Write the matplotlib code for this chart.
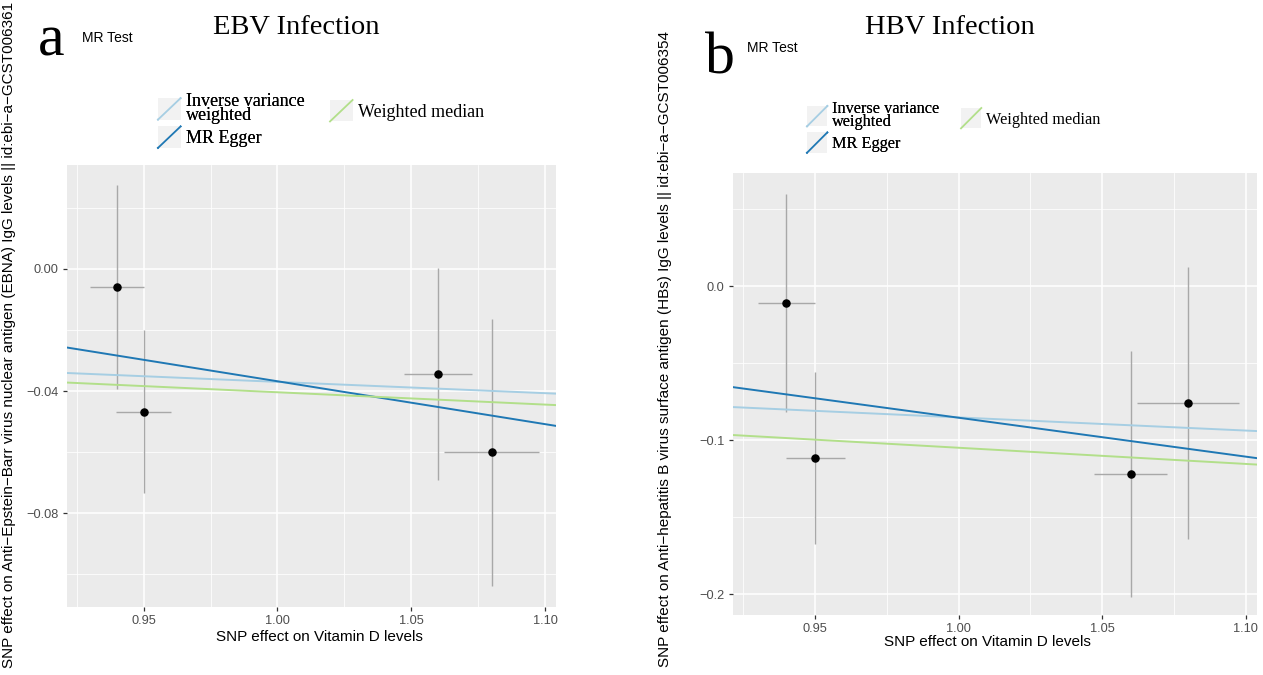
import matplotlib
matplotlib.use("Agg")
import matplotlib.pyplot as plt
from matplotlib.legend_handler import HandlerBase
from matplotlib.patches import Rectangle
from matplotlib.lines import Line2D
from matplotlib.ticker import MultipleLocator, FuncFormatter

# ---------------- data ----------------
snp_exposure = [0.94, 0.95, 1.06, 1.08]
snp_exposure_se = [0.010, 0.0103, 0.0128, 0.0178]

ebv_outcome = [-0.0059, -0.0467, -0.0343, -0.0601]
ebv_outcome_se = [0.0333, 0.0266, 0.0347, 0.0438]

hbv_outcome = [-0.011, -0.1117, -0.122, -0.076]
hbv_outcome_se = [0.0707, 0.056, 0.080, 0.0885]

methods = ["Inverse variance\nweighted", "MR Egger", "Weighted median"]
method_colors = ["#A6CEE3", "#1F78B4", "#B2DF8A"]

ebv_intercepts = [0.0, 0.1037, 0.0]
ebv_slopes = [-0.0370, -0.1405, -0.0404]
hbv_intercepts = [0.0, 0.167, 0.0]
hbv_slopes = [-0.0853, -0.2525, -0.1050]

titles = ["EBV Infection", "HBV Infection"]
panel_letters = ["a", "b"]
ylabels = [
    "SNP effect on Anti\u2212Epstein\u2212Barr virus nuclear antigen (EBNA) IgG levels || id:ebi\u2212a\u2212GCST006361",
    "SNP effect on Anti\u2212hepatitis B virus surface antigen (HBs) IgG levels || id:ebi\u2212a\u2212GCST006354",
]
xlabel = "SNP effect on Vitamin D levels"

# ---------------- figure ----------------
W, H = 1263, 675
fig = plt.figure(figsize=(W / 100, H / 100), dpi=100)
fig.patch.set_facecolor("white")

SERIF = ["Liberation Serif", "DejaVu Serif"]
SANS = ["Liberation Sans", "DejaVu Sans"]


def fx(px):
    return px / W


def fy(py):
    return 1 - py / H


def axes_rect(l, t, r, b):
    return [fx(l), fy(b), (r - l) / W, (b - t) / H]


class DiagHandler(HandlerBase):
    def create_artists(self, legend, orig_handle, xdescent, ydescent,
                       width, height, fontsize, trans):
        rect = Rectangle((-xdescent, -ydescent), width, height,
                         facecolor="#F2F2F2", edgecolor="none", transform=trans)
        line = Line2D([-xdescent, -xdescent + width],
                      [-ydescent, -ydescent + height],
                      color=orig_handle.get_color(), lw=1.3, transform=trans)
        return [rect, line]


def fmt(dec):
    def f(v, pos):
        s = f"{v:.{dec}f}"
        if float(s) == 0:
            s = f"{0:.{dec}f}"
        return s.replace("-", "\u2212")
    return FuncFormatter(f)


panels = [
    dict(rect=(67, 165, 556, 607), y=ebv_outcome, yse=ebv_outcome_se,
         ic=ebv_intercepts, sl=ebv_slopes, ylim=(-0.1107, 0.034),
         ymaj=0.04, ymin=0.02, ydec=2,
         title_xy=(296, 27), letter_xy=(38, 55), mr_xy=(82, 42),
         ylab_xy=(9, 668), xlab_axes=(0.517, -0.068),
         leg1=(158, 93), leg2=(330, 100), legsize=13.0,
         hlen=1.25, hh=1.45),
    dict(rect=(733, 173, 1257, 615), y=hbv_outcome, yse=hbv_outcome_se,
         ic=hbv_intercepts, sl=hbv_slopes, ylim=(-0.2136, 0.0734),
         ymaj=0.1, ymin=0.05, ydec=1,
         title_xy=(950, 28), letter_xy=(705, 73), mr_xy=(747, 52),
         ylab_xy=(665, 667), xlab_axes=(0.485, -0.061),
         leg1=(807, 101), leg2=(961, 108), legsize=11.7,
         hlen=1.25, hh=1.55),
]

for i, p in enumerate(panels):
    ax = fig.add_axes(axes_rect(*p["rect"]))
    ax.set_facecolor("#EBEBEB")
    for s in ax.spines.values():
        s.set_visible(False)
    ax.set_xlim(0.9214, 1.104)
    ax.set_ylim(*p["ylim"])
    ax.xaxis.set_major_locator(MultipleLocator(0.05))
    ax.xaxis.set_minor_locator(MultipleLocator(0.025))
    ax.yaxis.set_major_locator(MultipleLocator(p["ymaj"]))
    ax.yaxis.set_minor_locator(MultipleLocator(p["ymin"]))
    ax.xaxis.set_major_formatter(fmt(2))
    ax.yaxis.set_major_formatter(fmt(p["ydec"]))
    ax.grid(which="major", color="white", lw=1.1)
    ax.grid(which="minor", color="white", lw=0.55)
    ax.set_axisbelow(True)
    ax.tick_params(which="major", length=3, width=0.9, color="#333333",
                   labelcolor="#4D4D4D", labelsize=9.2, pad=3)
    ax.tick_params(which="minor", length=0)
    for lab in ax.get_xticklabels() + ax.get_yticklabels():
        lab.set_family(SANS)

    # error bars
    ax.errorbar(snp_exposure, p["y"], xerr=snp_exposure_se, yerr=p["yse"],
                fmt="none", ecolor="#A8A8A8", elinewidth=1.0, capsize=0,
                zorder=2)
    # method lines
    handles = []
    for m, c, a0, b0 in zip(methods, method_colors, p["ic"], p["sl"]):
        ln = ax.axline((0.0, a0), slope=b0, color=c, lw=1.4, zorder=3, label=m)
        handles.append(ln)
    ax.scatter(snp_exposure, p["y"], s=26, color="black", zorder=4)

    ax.set_xlabel(xlabel, family=SANS, fontsize=11, color="black")
    ax.xaxis.set_label_coords(*p["xlab_axes"])
    ax.xaxis.label.set_va("center")

    # legends
    hmap = {h: DiagHandler() for h in handles}
    leg1 = fig.legend(handles[:2], methods[:2], loc="upper left",
                      bbox_to_anchor=(fx(p["leg1"][0]), fy(p["leg1"][1])),
                      bbox_transform=fig.transFigure, frameon=False,
                      handler_map=hmap,
                      prop=dict(family=SERIF, size=p["legsize"]),
                      handlelength=p["hlen"], handleheight=p["hh"],
                      handletextpad=0.3, borderpad=0, borderaxespad=0,
                      labelspacing=0.15)
    for t in leg1.get_texts():
        t.set_linespacing(0.75)
    leg2 = fig.legend(handles[2:], methods[2:], loc="upper left",
                      bbox_to_anchor=(fx(p["leg2"][0]), fy(p["leg2"][1])),
                      bbox_transform=fig.transFigure, frameon=False,
                      handler_map=hmap,
                      prop=dict(family=SERIF, size=p["legsize"]),
                      handlelength=p["hlen"], handleheight=p["hh"],
                      handletextpad=0.3, borderpad=0, borderaxespad=0)
    fig.add_artist(leg1)

    # texts
    fig.text(fx(p["title_xy"][0]), fy(p["title_xy"][1]), titles[i],
             family=SERIF, fontsize=20.5, ha="center", va="center")
    fig.text(fx(p["letter_xy"][0]), fy(p["letter_xy"][1]), panel_letters[i],
             family=SERIF, fontsize=43, ha="left", va="baseline")
    fig.text(fx(p["mr_xy"][0]), fy(p["mr_xy"][1]), "MR Test",
             family=SANS, fontsize=10, ha="left", va="baseline")
    fig.text(fx(p["ylab_xy"][0]), fy(p["ylab_xy"][1]), ylabels[i],
             family=SANS, fontsize=11, rotation=90, ha="center", va="bottom")

fig.savefig("out.png", dpi=100)
